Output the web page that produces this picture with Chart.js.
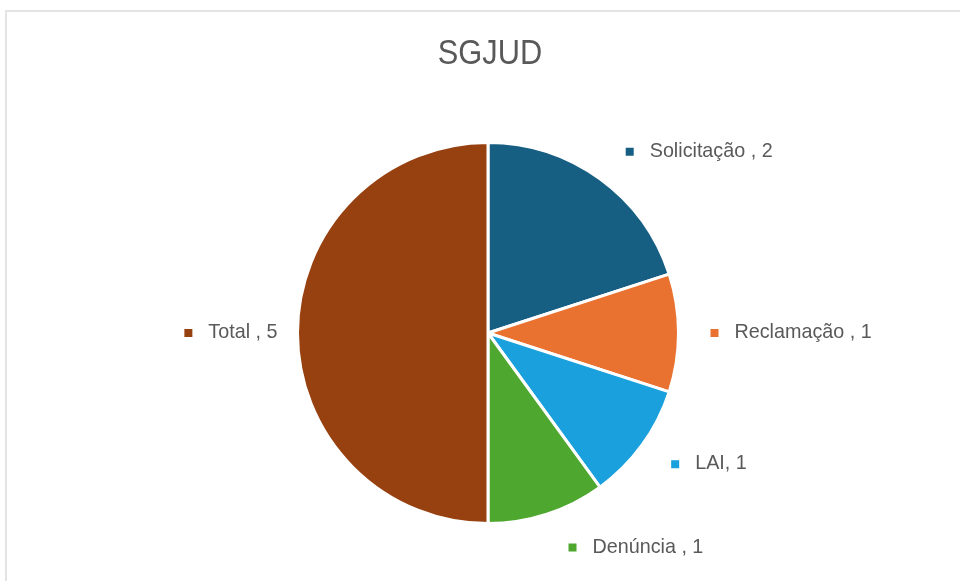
<!DOCTYPE html>
<html>
<head>
<meta charset="utf-8">
<script src="https://cdn.jsdelivr.net/npm/chart.js@4/dist/chart.umd.min.js"></script>
<style>
html,body{margin:0;padding:0;background:#fff;}
#wrap{position:relative;width:960px;height:581px;}
#frame{position:absolute;left:5px;top:10px;width:955px;height:571px;border-top:2px solid #e4e4e4;border-left:2px solid #e4e4e4;box-sizing:border-box;}
canvas{position:absolute;left:0;top:0;}
</style>
</head>
<body>
<div id="wrap"><div id="frame"></div><canvas id="c" width="960" height="581"></canvas></div>
<script>
const categories = ["Solicitação ", "Reclamação ", "LAI", "Denúncia ", "Total "];
const values = [2, 1, 1, 1, 5];
const colors = ["#175E83", "#E97231", "#1AA0DC", "#4EA72E", "#974010"];
const chartTitle = "SGJUD";

const FONT = "'Liberation Sans', Arial, sans-serif";
const NARROW = 0.94;

const textPlugin = {
  id: 'textPlugin',
  afterDatasetsDraw(chart) {
    const ctx = chart.ctx;
    const meta = chart.getDatasetMeta(0);
    ctx.save();
    // title
    ctx.font = "35px " + FONT;
    ctx.fillStyle = '#595959';
    ctx.textBaseline = 'alphabetic';
    const tw = ctx.measureText(chartTitle).width * 0.88;
    const first = meta.data[0].getProps(['x'], true);
    ctx.save();
    ctx.translate(first.x + 2 - tw / 2, 64);
    ctx.scale(0.88, 1);
    ctx.fillText(chartTitle, 0, 0);
    ctx.restore();

    // data labels
    ctx.font = "21px " + FONT;
    ctx.textAlign = 'left';
    meta.data.forEach((arc, i) => {
      const p = arc.getProps(['x','y','startAngle','endAngle','outerRadius'], true);
      let mid = (p.startAngle + p.endAngle) / 2;
      // compress angle toward nearest horizontal
      let a = Math.atan2(Math.sin(mid), Math.cos(mid));
      if (Math.cos(a) >= 0) a = a * 0.95;
      else { let b = a > 0 ? a - Math.PI : a + Math.PI; a = Math.PI + b * 0.95; }
      const c = Math.cos(a), s = Math.sin(a);
      const d = c >= 0 ? p.outerRadius + 26 + 6 * c : p.outerRadius + 20;
      const ax = p.x + c * d, ay = p.y + s * d;
      const text = categories[i] + ", " + values[i];
      const marker = 8, gap = 16;
      const w = marker + gap + ctx.measureText(text).width * NARROW;
      const h = 24;
      const cl = v => Math.max(-1, Math.min(1, v));
      const cx = ax + cl(c * 3) * w / 2;
      const cy = ay + s * h / 2;
      const left = cx - w / 2;
      ctx.fillStyle = colors[i];
      ctx.fillRect(left, cy - marker / 2, marker, marker);
      ctx.fillStyle = '#595959';
      ctx.save();
      ctx.translate(left + marker + gap, cy + 5);
      ctx.scale(NARROW, 1);
      ctx.fillText(text, 0, 0);
      ctx.restore();
    });
    ctx.restore();
  }
};

new Chart(document.getElementById('c'), {
  type: 'pie',
  data: {
    labels: categories,
    datasets: [{
      data: values,
      backgroundColor: colors,
      borderColor: '#ffffff',
      borderWidth: 3
    }]
  },
  options: {
    responsive: false,
    animation: false,
    layout: { padding: { left: 116, right: 100, top: 141, bottom: 56 } },
    plugins: {
      legend: { display: false },
      tooltip: { enabled: false },
      title: { display: false }
    }
  },
  plugins: [textPlugin]
});
</script>
</body>
</html>
